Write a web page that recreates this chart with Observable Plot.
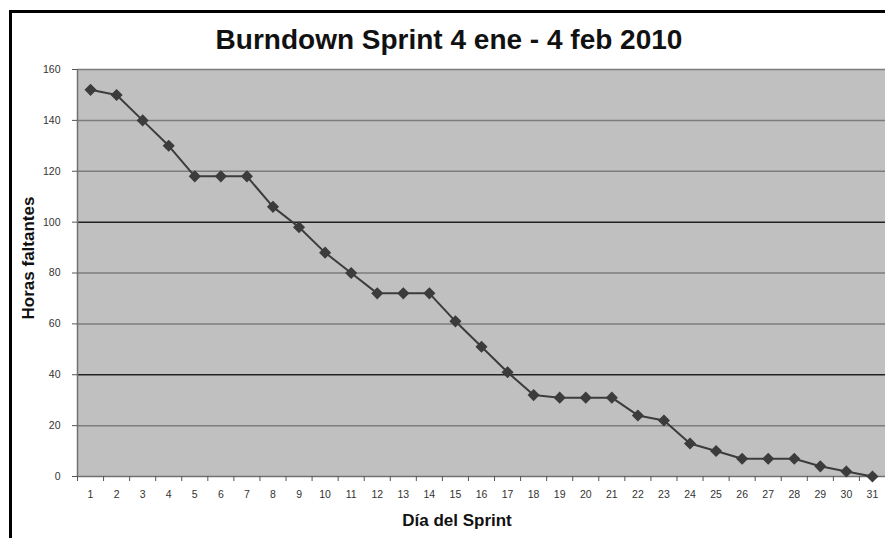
<!DOCTYPE html>
<html>
<head>
<meta charset="utf-8">
<script src="https://cdn.jsdelivr.net/npm/d3@7"></script>
<script src="https://cdn.jsdelivr.net/npm/@observablehq/plot@0.6"></script>
<style>
  html, body { margin: 0; padding: 0; background: #fff; }
  #wrap { position: relative; width: 885px; height: 538px; overflow: hidden; font-family: "Liberation Sans", Arial, sans-serif; }
  #border { position: absolute; left: 9px; top: 10px; width: 900px; height: 600px; border-left: 3px solid #000; border-top: 3px solid #000; }
  #title { position: absolute; left: 449px; top: 40px; transform: translate(-50%, -50%); white-space: nowrap; font-size: 28px; font-weight: bold; color: #111; }
  #ylab { position: absolute; left: 29px; top: 258px; transform: translate(-50%, -50%) rotate(-90deg); white-space: nowrap; font-size: 17px; font-weight: bold; color: #111; }
  #xlab { position: absolute; left: 457px; top: 521px; transform: translate(-50%, -50%); white-space: nowrap; font-size: 17px; font-weight: bold; color: #111; }
  #chart { position: absolute; left: 0; top: 0; }
</style>
</head>
<body>
<div id="wrap">
  <div id="border"></div>
  <div id="chart"></div>
  <div id="title">Burndown Sprint 4 ene - 4 feb 2010</div>
  <div id="ylab">Horas faltantes</div>
  <div id="xlab">Día del Sprint</div>
</div>
<script>
const days = [1,2,3,4,5,6,7,8,9,10,11,12,13,14,15,16,17,18,19,20,21,22,23,24,25,26,27,28,29,30,31];
const hours = [152,150,140,130,118,118,118,106,98,88,80,72,72,72,61,51,41,32,31,31,31,24,22,13,10,7,7,7,4,2,0];
const yTicks = [0,20,40,60,80,100,120,140,160];
const lightGrid = [20,60,80,120,140,160];
const darkGrid = [40,100];
const dayBoundaries = [0.5,1.5,2.5,3.5,4.5,5.5,6.5,7.5,8.5,9.5,10.5,11.5,12.5,13.5,14.5,15.5,16.5,17.5,18.5,19.5,20.5,21.5,22.5,23.5,24.5,25.5,26.5,27.5,28.5,29.5,30.5,31.5];

const data = days.map((d, i) => ({day: d, hours: hours[i]}));

const chart = Plot.plot({
  width: 885,
  height: 538,
  marginLeft: 77,
  marginRight: 0,
  marginTop: 69,
  marginBottom: 62,
  style: { fontFamily: "Liberation Sans, Arial, sans-serif", fontSize: "10.5px", color: "#333", background: "transparent" },
  x: { domain: [0.5, 31.5] },
  y: { domain: [0, 160] },
  marks: [
    Plot.frame({ fill: "#c0c0c0", stroke: null }),
    Plot.ruleY(lightGrid, { stroke: "#7c7c7c", strokeWidth: 1.5 }),
    Plot.ruleY(darkGrid, { stroke: "#222", strokeWidth: 1.5 }),
    Plot.ruleX([0.5], { stroke: "#707070", strokeWidth: 1.5 }),
    Plot.ruleY([0], { stroke: "#707070", strokeWidth: 1.5 }),
    Plot.axisY({ ticks: yTicks, tickSize: 5, tickPadding: 12, label: null, stroke: "#555", fill: "#333" }),
    Plot.axisX({ ticks: dayBoundaries, tickFormat: () => "", tickSize: 5, label: null, stroke: "#555" }),
    Plot.axisX({ ticks: days, tickSize: 0, tickPadding: 14, label: null, fill: "#333" }),
    Plot.line(data, { x: "day", y: "hours", stroke: "#3c3c3c", strokeWidth: 2 }),
    Plot.dot(data, { x: "day", y: "hours", symbol: "diamond2", r: 4.5, fill: "#3c3c3c", stroke: "#3c3c3c" })
  ]
});
document.getElementById("chart").appendChild(chart);
</script>
</body>
</html>
